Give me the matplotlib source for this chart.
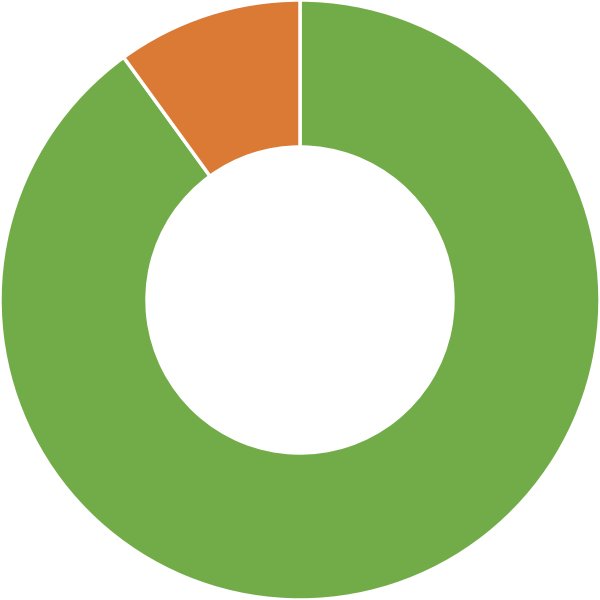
import matplotlib
matplotlib.use("Agg")
import matplotlib.pyplot as plt

labels = ["A", "B"]
values = [90, 10]
colors = ["#72AC48", "#DB7A35"]

fig = plt.figure(figsize=(6, 6), dpi=100)
ax = fig.add_axes([0, 0, 1, 1])
ax.pie(values, colors=colors, startangle=90, counterclock=False,
       radius=1.0, wedgeprops=dict(width=0.49, edgecolor="white", linewidth=2.5))
ax.set_xlim(-1.0, 1.0)
ax.set_ylim(-1.0, 1.0)
ax.set_aspect("equal")
ax.axis("off")
fig.savefig("out.png", dpi=100)
